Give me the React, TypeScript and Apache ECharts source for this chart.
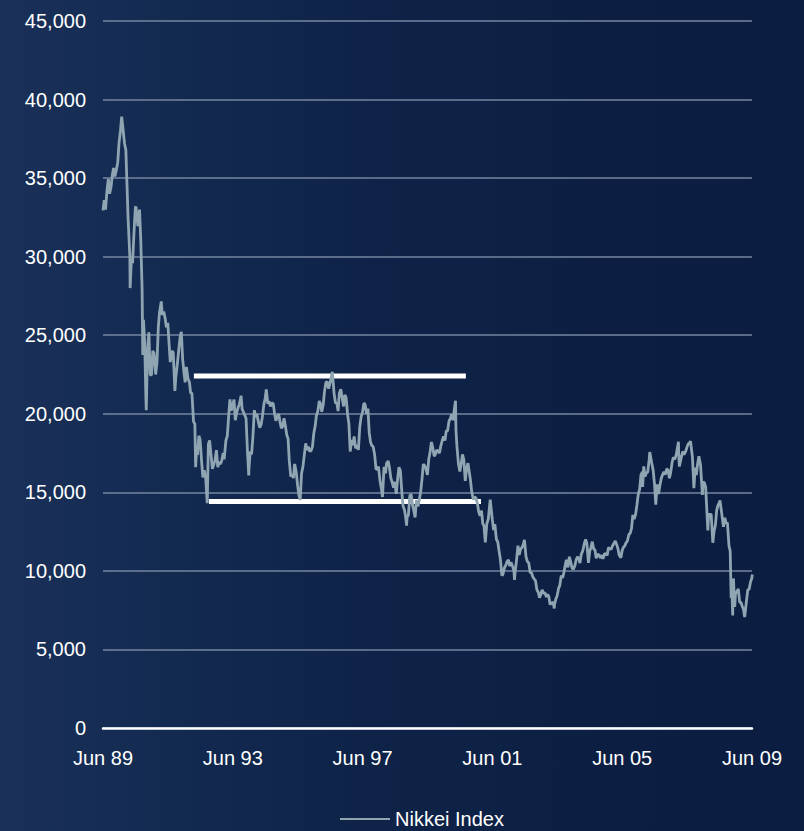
import React, { useEffect, useRef } from "react";
import * as echarts from "echarts";

// Nikkei 225 index (date, level)
const nikkei: [string, number][] = [
  ["1989-06-01", 32950], ["1989-06-15", 33600], ["1989-06-30", 33000],
  ["1989-07-14", 34100], ["1989-07-31", 34950], ["1989-08-15", 34000], ["1989-08-31", 34430],
  ["1989-09-15", 35200], ["1989-09-29", 35640], ["1989-10-13", 35100], ["1989-10-31", 35550],
  ["1989-11-15", 36000], ["1989-11-30", 37270], ["1989-12-15", 38000], ["1989-12-29", 38916],
  ["1990-01-10", 38300], ["1990-01-31", 37190], ["1990-02-15", 36800], ["1990-02-28", 34590],
  ["1990-03-09", 32500], ["1990-03-30", 29980], ["1990-04-02", 28000], ["1990-04-16", 29800],
  ["1990-04-30", 29580], ["1990-05-15", 31500], ["1990-05-31", 33130], ["1990-06-07", 33190],
  ["1990-06-29", 31940], ["1990-07-17", 33000], ["1990-07-31", 31040], ["1990-08-15", 28000],
  ["1990-08-23", 23740], ["1990-08-31", 25980], ["1990-09-14", 24500], ["1990-09-28", 20980],
  ["1990-10-01", 20220], ["1990-10-15", 24000], ["1990-10-31", 25190], ["1990-11-15", 22500],
  ["1990-11-30", 22450], ["1990-12-14", 24000], ["1990-12-28", 23850],
  ["1991-01-16", 22500], ["1991-01-31", 23290], ["1991-02-15", 25500], ["1991-02-28", 26410],
  ["1991-03-18", 27150], ["1991-03-29", 26290], ["1991-04-15", 26500], ["1991-04-30", 26110],
  ["1991-05-15", 25500], ["1991-05-31", 25790], ["1991-06-14", 24500], ["1991-06-28", 23290],
  ["1991-07-15", 24000], ["1991-07-31", 23900], ["1991-08-19", 21460], ["1991-08-30", 22340],
  ["1991-09-13", 23000], ["1991-09-30", 23920], ["1991-10-15", 24800], ["1991-10-31", 25220],
  ["1991-11-15", 23500], ["1991-11-29", 22690], ["1991-12-13", 22000], ["1991-12-27", 22980],
  ["1992-01-15", 22200], ["1992-01-31", 22020], ["1992-02-14", 21300], ["1992-02-28", 21340],
  ["1992-03-16", 19500], ["1992-03-31", 19350], ["1992-04-09", 16600], ["1992-04-20", 17800],
  ["1992-04-30", 17390], ["1992-05-15", 18600], ["1992-05-29", 18350], ["1992-06-15", 17000],
  ["1992-06-30", 15950], ["1992-07-15", 16400], ["1992-07-31", 15910], ["1992-08-18", 14310],
  ["1992-08-31", 18060], ["1992-09-14", 18300], ["1992-09-30", 17400], ["1992-10-15", 16500],
  ["1992-10-30", 16770], ["1992-11-13", 17000], ["1992-11-30", 17680], ["1992-12-15", 16600],
  ["1992-12-28", 16920],
  ["1993-01-15", 16800], ["1993-01-29", 17020], ["1993-02-15", 17500], ["1993-02-26", 17100],
  ["1993-03-15", 18300], ["1993-03-31", 18590], ["1993-04-15", 19800], ["1993-04-30", 20920],
  ["1993-05-14", 20200], ["1993-05-31", 20550], ["1993-06-15", 20900], ["1993-06-30", 19590],
  ["1993-07-15", 20100], ["1993-07-30", 20380], ["1993-08-13", 20600], ["1993-08-31", 21030],
  ["1993-09-03", 21150], ["1993-09-15", 20300], ["1993-09-30", 20110], ["1993-10-15", 19900],
  ["1993-10-29", 19700], ["1993-11-15", 17500], ["1993-11-29", 16080], ["1993-11-30", 16410],
  ["1993-12-15", 17600], ["1993-12-30", 17420],
  ["1994-01-14", 18500], ["1994-01-31", 20230], ["1994-02-15", 19800], ["1994-02-28", 20000],
  ["1994-03-15", 19500], ["1994-03-31", 19110], ["1994-04-15", 19300], ["1994-04-28", 19730],
  ["1994-05-16", 20600], ["1994-05-31", 20970], ["1994-06-13", 21550], ["1994-06-30", 20640],
  ["1994-07-15", 20800], ["1994-07-29", 20460], ["1994-08-15", 20700], ["1994-08-31", 20630],
  ["1994-09-15", 20000], ["1994-09-30", 19560], ["1994-10-14", 19800], ["1994-10-31", 19990],
  ["1994-11-15", 19500], ["1994-11-30", 19080], ["1994-12-15", 19200], ["1994-12-30", 19720],
  ["1995-01-13", 19300], ["1995-01-31", 18650], ["1995-02-15", 18400], ["1995-02-28", 17050],
  ["1995-03-15", 16000], ["1995-03-31", 16140], ["1995-04-14", 15900], ["1995-04-28", 16810],
  ["1995-05-15", 16300], ["1995-05-31", 15440], ["1995-06-15", 14800], ["1995-06-30", 14520],
  ["1995-07-03", 14490], ["1995-07-14", 16200], ["1995-07-31", 16680], ["1995-08-15", 17400],
  ["1995-08-31", 18120], ["1995-09-15", 17700], ["1995-09-29", 17910], ["1995-10-16", 17600],
  ["1995-10-31", 17660], ["1995-11-15", 17900], ["1995-11-30", 18740], ["1995-12-15", 19200],
  ["1995-12-29", 19870],
  ["1996-01-16", 20200], ["1996-01-31", 20810], ["1996-02-15", 20600], ["1996-02-29", 20130],
  ["1996-03-15", 20600], ["1996-03-29", 21410], ["1996-04-15", 22000], ["1996-04-30", 22040],
  ["1996-05-15", 21600], ["1996-05-31", 21960], ["1996-06-26", 22666], ["1996-06-28", 22530],
  ["1996-07-15", 21300], ["1996-07-31", 20690], ["1996-08-15", 20700], ["1996-08-30", 20170],
  ["1996-09-13", 21300], ["1996-09-30", 21560], ["1996-10-15", 21000], ["1996-10-31", 20470],
  ["1996-11-15", 21200], ["1996-11-29", 21020], ["1996-12-16", 19900], ["1996-12-30", 19360],
  ["1997-01-14", 17600], ["1997-01-31", 18330], ["1997-02-14", 18000], ["1997-02-28", 18560],
  ["1997-03-14", 17800], ["1997-03-31", 18000], ["1997-04-15", 17700], ["1997-04-30", 19150],
  ["1997-05-15", 19800], ["1997-05-30", 20070], ["1997-06-16", 20680], ["1997-06-30", 20600],
  ["1997-07-15", 20000], ["1997-07-31", 20330], ["1997-08-15", 18800], ["1997-08-29", 18230],
  ["1997-09-12", 18000], ["1997-09-30", 17890], ["1997-10-15", 17400], ["1997-10-31", 16460],
  ["1997-11-17", 16500], ["1997-11-28", 16640], ["1997-12-15", 15700], ["1997-12-30", 15260],
  ["1998-01-12", 14700], ["1998-01-30", 16630], ["1998-02-16", 16200], ["1998-02-27", 16830],
  ["1998-03-16", 17000], ["1998-03-31", 16530], ["1998-04-15", 15900], ["1998-04-30", 15640],
  ["1998-05-15", 15300], ["1998-05-29", 15670], ["1998-06-15", 14900], ["1998-06-30", 15830],
  ["1998-07-15", 16600], ["1998-07-31", 16380], ["1998-08-17", 15000], ["1998-08-31", 14110],
  ["1998-09-15", 13900], ["1998-09-30", 13410], ["1998-10-09", 12880], ["1998-10-15", 13400],
  ["1998-10-30", 13560], ["1998-11-16", 14800], ["1998-11-30", 14880], ["1998-12-15", 14200],
  ["1998-12-30", 13840],
  ["1999-01-14", 13400], ["1999-01-29", 14500], ["1999-02-15", 14100], ["1999-02-26", 14370],
  ["1999-03-15", 15000], ["1999-03-31", 15840], ["1999-04-15", 16800], ["1999-04-30", 16700],
  ["1999-05-14", 16500], ["1999-05-31", 16110], ["1999-06-15", 17100], ["1999-06-30", 17530],
  ["1999-07-15", 18200], ["1999-07-30", 17860], ["1999-08-16", 17300], ["1999-08-31", 17440],
  ["1999-09-14", 17700], ["1999-09-30", 17610], ["1999-10-15", 17500], ["1999-10-29", 17940],
  ["1999-11-15", 18300], ["1999-11-30", 18560], ["1999-12-15", 18300], ["1999-12-30", 18930],
  ["2000-01-14", 18900], ["2000-01-31", 19540], ["2000-02-15", 19700], ["2000-02-29", 19960],
  ["2000-03-15", 19600], ["2000-03-31", 20340], ["2000-04-12", 20830], ["2000-04-17", 19010],
  ["2000-04-28", 17970], ["2000-05-15", 16800], ["2000-05-31", 16330], ["2000-06-15", 16800],
  ["2000-06-30", 17410], ["2000-07-14", 17100], ["2000-07-31", 15730], ["2000-08-15", 16500],
  ["2000-08-31", 16860], ["2000-09-15", 16300], ["2000-09-29", 15750], ["2000-10-13", 15000],
  ["2000-10-31", 14540], ["2000-11-15", 14700], ["2000-11-30", 14650], ["2000-12-15", 14300],
  ["2000-12-29", 13790],
  ["2001-01-15", 13500], ["2001-01-31", 13840], ["2001-02-15", 13000], ["2001-02-28", 12880],
  ["2001-03-13", 11820], ["2001-03-30", 13000], ["2001-04-16", 13300], ["2001-04-27", 13930],
  ["2001-05-07", 14530], ["2001-05-31", 13260], ["2001-06-15", 12600], ["2001-06-29", 12970],
  ["2001-07-16", 12000], ["2001-07-31", 11860], ["2001-08-15", 11300], ["2001-08-31", 10710],
  ["2001-09-17", 9700], ["2001-09-28", 9770], ["2001-10-15", 10200], ["2001-10-31", 10370],
  ["2001-11-15", 10600], ["2001-11-30", 10700], ["2001-12-14", 10300], ["2001-12-28", 10540],
  ["2002-01-15", 10300], ["2002-01-31", 10000], ["2002-02-06", 9420], ["2002-02-15", 10000],
  ["2002-02-28", 10590], ["2002-03-15", 11600], ["2002-03-29", 11020], ["2002-04-15", 11400],
  ["2002-04-30", 11490], ["2002-05-15", 11700], ["2002-05-27", 11980], ["2002-05-31", 11760],
  ["2002-06-14", 10900], ["2002-06-28", 10620], ["2002-07-15", 10500], ["2002-07-31", 9880],
  ["2002-08-15", 9900], ["2002-08-30", 9620], ["2002-09-13", 9500], ["2002-09-30", 9380],
  ["2002-10-15", 8800], ["2002-10-31", 8640], ["2002-11-14", 8300], ["2002-11-29", 8480],
  ["2002-12-13", 8800], ["2002-12-27", 8580],
  ["2003-01-15", 8600], ["2003-01-31", 8340], ["2003-02-14", 8500], ["2003-02-28", 8360],
  ["2003-03-11", 7860], ["2003-03-31", 7970], ["2003-04-15", 8000], ["2003-04-28", 7610],
  ["2003-04-30", 7830], ["2003-05-15", 8200], ["2003-05-30", 8420], ["2003-06-16", 8900],
  ["2003-06-30", 9080], ["2003-07-15", 9700], ["2003-07-31", 9560], ["2003-08-15", 9900],
  ["2003-08-29", 10340], ["2003-09-12", 10700], ["2003-09-30", 10220], ["2003-10-15", 10900],
  ["2003-10-31", 10560], ["2003-11-14", 10200], ["2003-11-28", 10100], ["2003-12-15", 10300],
  ["2003-12-30", 10680],
  ["2004-01-15", 10900], ["2004-01-30", 10780], ["2004-02-13", 10500], ["2004-02-27", 11040],
  ["2004-03-15", 11300], ["2004-03-31", 11720], ["2004-04-15", 12000], ["2004-04-30", 11760],
  ["2004-05-17", 10510], ["2004-05-31", 11240], ["2004-06-15", 11500], ["2004-06-30", 11860],
  ["2004-07-15", 11400], ["2004-07-30", 11330], ["2004-08-13", 10800], ["2004-08-31", 11080],
  ["2004-09-15", 11000], ["2004-09-30", 10820], ["2004-10-15", 11000], ["2004-10-29", 10770],
  ["2004-11-15", 11100], ["2004-11-30", 11070], ["2004-12-15", 11000], ["2004-12-30", 11490],
  ["2005-01-14", 11400], ["2005-01-31", 11390], ["2005-02-15", 11600], ["2005-02-28", 11740],
  ["2005-03-15", 11900], ["2005-03-31", 11670], ["2005-04-15", 11400], ["2005-04-28", 11010],
  ["2005-05-17", 10830], ["2005-05-31", 11280], ["2005-06-15", 11500], ["2005-06-30", 11580],
  ["2005-07-15", 11800], ["2005-07-29", 11900], ["2005-08-15", 12300], ["2005-08-31", 12410],
  ["2005-09-15", 12700], ["2005-09-30", 13570], ["2005-10-14", 13300], ["2005-10-31", 13610],
  ["2005-11-15", 14200], ["2005-11-30", 14870], ["2005-12-15", 15200], ["2005-12-30", 16110],
  ["2006-01-16", 16300], ["2006-01-18", 15340], ["2006-01-31", 16650], ["2006-02-15", 16000],
  ["2006-02-28", 16210], ["2006-03-15", 16300], ["2006-03-31", 17060], ["2006-04-07", 17560],
  ["2006-04-28", 16910], ["2006-05-15", 16400], ["2006-05-31", 15470], ["2006-06-14", 14220],
  ["2006-06-30", 15510], ["2006-07-14", 14900], ["2006-07-31", 15460], ["2006-08-15", 15900],
  ["2006-08-31", 16140], ["2006-09-15", 16300], ["2006-09-29", 16130], ["2006-10-16", 16500],
  ["2006-10-31", 16400], ["2006-11-15", 15900], ["2006-11-30", 16270], ["2006-12-15", 16900],
  ["2006-12-29", 17230],
  ["2007-01-15", 17100], ["2007-01-31", 17380], ["2007-02-26", 18220], ["2007-02-28", 17600],
  ["2007-03-05", 16640], ["2007-03-30", 17290], ["2007-04-15", 17600], ["2007-04-27", 17400],
  ["2007-05-15", 17600], ["2007-05-31", 17880], ["2007-06-15", 18100], ["2007-06-29", 18140],
  ["2007-07-09", 18260], ["2007-07-31", 17250], ["2007-08-17", 15270], ["2007-08-31", 16570],
  ["2007-09-14", 16100], ["2007-09-28", 16790], ["2007-10-12", 17300], ["2007-10-31", 16740],
  ["2007-11-21", 14840], ["2007-11-30", 15680], ["2007-12-14", 15600], ["2007-12-28", 15310],
  ["2008-01-22", 12570], ["2008-01-31", 13590], ["2008-02-15", 13600], ["2008-02-29", 13600],
  ["2008-03-17", 11790], ["2008-03-31", 12530], ["2008-04-15", 12900], ["2008-04-30", 13850],
  ["2008-05-15", 14200], ["2008-05-30", 14340], ["2008-06-06", 14490], ["2008-06-30", 13480],
  ["2008-07-15", 12800], ["2008-07-31", 13380], ["2008-08-15", 13000], ["2008-08-29", 13070],
  ["2008-09-16", 11600], ["2008-09-30", 11260], ["2008-10-10", 8280], ["2008-10-14", 9450],
  ["2008-10-28", 7160], ["2008-10-31", 8580], ["2008-11-05", 9520], ["2008-11-20", 7700],
  ["2008-11-28", 8510], ["2008-12-15", 8700], ["2008-12-30", 8860],
  ["2009-01-15", 8000], ["2009-01-30", 7990], ["2009-02-16", 7700], ["2009-02-27", 7570],
  ["2009-03-10", 7055], ["2009-03-31", 8110], ["2009-04-15", 8800], ["2009-04-30", 8830],
  ["2009-05-15", 9300], ["2009-05-29", 9520], ["2009-06-05", 9770],
];

// White trading-range bars (resistance / support)
const rangeLevels: { from: string; to: string; value: number }[] = [
  { from: "1992-03-20", to: "2000-08-07", value: 22400 },
  { from: "1992-09-07", to: "2001-01-25", value: 14420 },
];

const xTickLabels = ["Jun 89", "Jun 93", "Jun 97", "Jun 01", "Jun 05", "Jun 09"];
const seriesName = "Nikkei Index";

function monthIndex(d: string): number {
  const [y, m, day] = d.split("-").map(Number);
  return (y - 1989) * 12 + (m - 6) + (day - 1) / 31;
}

export default function App() {
  const ref = useRef<HTMLDivElement>(null);
  useEffect(() => {
    if (!ref.current) return;
    const chart = echarts.init(ref.current, undefined, { renderer: "svg" });
    const font = "'Liberation Sans', Arial, sans-serif";
    const lineColor = "#8fa6b2";
    const levelSeries = rangeLevels.map((lv, i) => ({
      name: "level" + i,
      type: "line",
      data: [
        [monthIndex(lv.from), lv.value],
        [monthIndex(lv.to), lv.value],
      ],
      symbol: "none",
      silent: true,
      z: 2,
      lineStyle: { color: "#ffffff", width: 5, cap: "butt" },
    }));
    chart.setOption({
      animation: false,
      backgroundColor: "transparent",
      textStyle: { fontFamily: font },
      grid: { left: 103, right: 52, top: 21, bottom: 103 },
      legend: {
        data: [{ name: seriesName, icon: "rect", itemStyle: { color: lineColor } }],
        left: 335,
        top: 804,
        itemWidth: 50,
        itemHeight: 2,
        itemGap: 10,
        textStyle: { color: "#ffffff", fontSize: 20, fontFamily: font },
      },
      xAxis: {
        type: "value",
        min: 0,
        max: 240,
        interval: 48,
        axisLine: { show: true, onZero: true, lineStyle: { color: "#ffffff", width: 2.5 } },
        axisTick: { show: false },
        splitLine: { show: false },
        axisLabel: {
          color: "#ffffff",
          fontSize: 20,
          margin: 20,
          fontFamily: font,
          formatter: (v: number) => xTickLabels[Math.round(v / 48)] ?? "",
        },
      },
      yAxis: {
        type: "value",
        min: 0,
        max: 45000,
        interval: 5000,
        axisLine: { show: false },
        axisTick: { show: false },
        splitLine: { show: true, lineStyle: { color: "#7486a0", width: 1.5 } },
        axisLabel: {
          color: "#ffffff",
          fontSize: 20,
          margin: 17,
          fontFamily: font,
          formatter: (v: number) => v.toLocaleString("en-US"),
        },
      },
      series: [
        ...levelSeries,
        {
          name: seriesName,
          type: "line",
          data: nikkei.map(([d, v]) => [monthIndex(d), v]),
          symbol: "none",
          z: 3,
          lineStyle: { color: lineColor, width: 2.8 },
          itemStyle: { color: lineColor },
        },
      ],
    });
    return () => chart.dispose();
  }, []);
  return (
    <div
      style={{
        position: "absolute",
        left: 0,
        top: 0,
        width: 804,
        height: 831,
        background:
          "linear-gradient(90deg, #1a3058 0%, #132a51 20%, #0f2348 45%, #0c1f43 75%, #0b1d40 100%)",
      }}
    >
      <div ref={ref} style={{ width: 804, height: 831 }} />
    </div>
  );
}
